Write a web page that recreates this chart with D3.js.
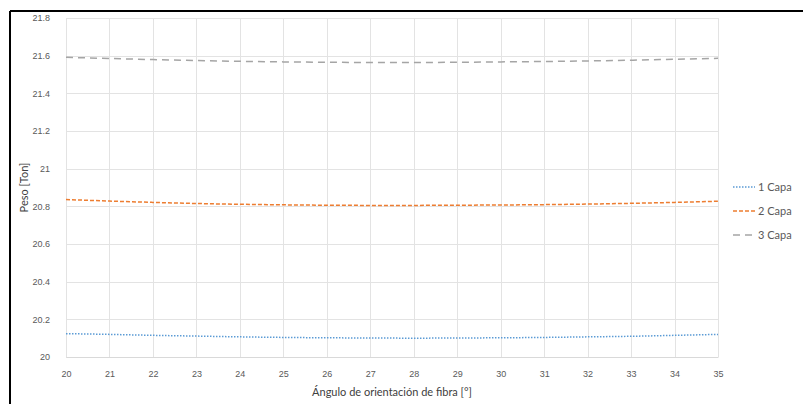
<!DOCTYPE html>
<html lang="es">
<head>
  <meta charset="UTF-8">
  <title>Peso vs ángulo de orientación de fibra</title>
  <style>
    body {
      margin: 0;
      background: #fff;
      font-family: Lato, "Open Sans", sans-serif;
    }
    svg { display: block; }
    .grid line { stroke: #e3e3e3; stroke-width: 1; }
    .tick text { fill: #595959; font-size: 9px; }
    .axis-title { fill: #404040; font-size: 11px; }
    .legend text { fill: #595959; font-size: 11px; }
  </style>
</head>
<body>
  <div id="chart"></div>

  <script src="https://d3js.org/d3.v7.min.js"></script>
  <script>
    // Data
    const angles = [20, 21, 22, 23, 24, 25, 26, 27, 28, 29, 30, 31, 32, 33, 34, 35];
    const capa1 = [20.124, 20.120, 20.115, 20.111, 20.107, 20.104, 20.102, 20.101, 20.100, 20.101, 20.102, 20.104, 20.107, 20.110, 20.115, 20.120];
    const capa2 = [20.836, 20.828, 20.821, 20.815, 20.811, 20.808, 20.806, 20.805, 20.805, 20.806, 20.807, 20.809, 20.812, 20.816, 20.821, 20.827];
    const capa3 = [21.591, 21.585, 21.579, 21.574, 21.570, 21.567, 21.565, 21.564, 21.564, 21.565, 21.567, 21.569, 21.572, 21.576, 21.581, 21.586];
    const yTicks = [20, 20.2, 20.4, 20.6, 20.8, 21, 21.2, 21.4, 21.6, 21.8];
    const seriesNames = ['1 Capa', '2 Capa', '3 Capa'];

    const W = 803, H = 404;
    const margin = { top: 18, right: 85, bottom: 47, left: 66 };
    const width = W - margin.left - margin.right;
    const height = H - margin.top - margin.bottom;

    const svg = d3.select('#chart').append('svg')
      .attr('width', W)
      .attr('height', H);

    // black frame of the screenshot (top and left only)
    svg.append('line').attr('x1', 10).attr('x2', W).attr('y1', 11).attr('y2', 11)
      .attr('stroke', '#000').attr('stroke-width', 2);
    svg.append('line').attr('x1', 10).attr('x2', 10).attr('y1', 11).attr('y2', H)
      .attr('stroke', '#000').attr('stroke-width', 2);

    const g = svg.append('g')
      .attr('transform', `translate(${margin.left},${margin.top})`);

    const x = d3.scaleLinear().domain([20, 35]).range([0, width]);
    const y = d3.scaleLinear().domain([20, 21.8]).range([height, 0]);

    // grid
    g.append('g').attr('class', 'grid')
      .selectAll('line.h').data(yTicks).enter().append('line')
      .attr('x1', 0).attr('x2', width)
      .attr('y1', d => Math.round(y(d)) + 0.5).attr('y2', d => Math.round(y(d)) + 0.5);
    g.append('g').attr('class', 'grid')
      .selectAll('line.v').data(angles).enter().append('line')
      .attr('y1', 0).attr('y2', height)
      .attr('x1', d => Math.round(x(d)) + 0.5).attr('x2', d => Math.round(x(d)) + 0.5);

    // axes (labels only)
    const xAxis = g.append('g')
      .attr('transform', `translate(0,${height})`)
      .call(d3.axisBottom(x).tickValues(angles).tickFormat(d3.format('d')).tickSize(0).tickPadding(14));
    xAxis.select('.domain').attr('stroke', '#d9d9d9');

    const yAxis = g.append('g')
      .call(d3.axisLeft(y).tickValues(yTicks).tickFormat(d => d3.format('')(+d.toFixed(1))).tickSize(0).tickPadding(16));
    yAxis.select('.domain').remove();

    // axis titles
    svg.append('text').attr('class', 'axis-title')
      .attr('x', margin.left + width / 2).attr('y', 396)
      .attr('text-anchor', 'middle')
      .text('Ángulo de orientación de fibra [°]');
    svg.append('text').attr('class', 'axis-title')
      .attr('transform', `translate(28,${margin.top + height / 2}) rotate(-90)`)
      .attr('text-anchor', 'middle')
      .text('Peso [Ton]');

    // series
    const styles = [
      { color: '#5b9bd5', dash: '1.5,1.5', width: 1.5 },
      { color: '#ed7d31', dash: '4,2', width: 1.5 },
      { color: '#a5a5a5', dash: '7,5', width: 1.5 }
    ];
    const allSeries = [capa1, capa2, capa3];
    const line = d3.line()
      .x((d, i) => x(angles[i]))
      .y(d => y(d))
      .curve(d3.curveMonotoneX);

    allSeries.forEach((vals, k) => {
      g.append('path')
        .datum(vals)
        .attr('fill', 'none')
        .attr('stroke', styles[k].color)
        .attr('stroke-width', styles[k].width)
        .attr('stroke-dasharray', styles[k].dash)
        .attr('d', line);
    });

    // legend
    const legend = svg.append('g').attr('class', 'legend')
      .attr('transform', 'translate(733,187)');
    seriesNames.forEach((name, k) => {
      const row = legend.append('g').attr('transform', `translate(0,${k * 24})`);
      row.append('line')
        .attr('x1', 0).attr('x2', 22).attr('y1', 0).attr('y2', 0)
        .attr('stroke', styles[k].color)
        .attr('stroke-width', styles[k].width)
        .attr('stroke-dasharray', styles[k].dash);
      row.append('text')
        .attr('x', 25).attr('y', 4)
        .text(name);
    });
  </script>
</body>
</html>
